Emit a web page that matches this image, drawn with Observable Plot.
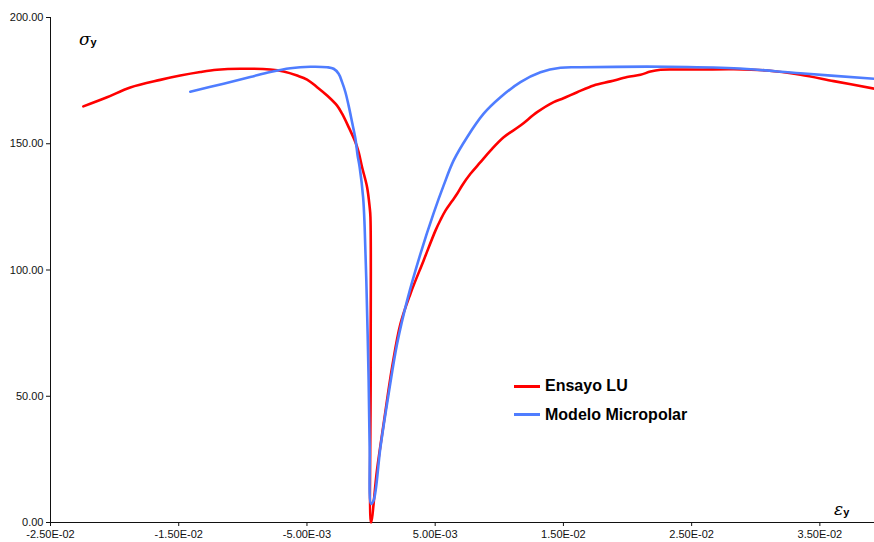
<!DOCTYPE html>
<html>
<head>
<meta charset="utf-8">
<script src="https://cdn.jsdelivr.net/npm/d3@7"></script>
<script src="https://cdn.jsdelivr.net/npm/@observablehq/plot@0.6"></script>
<style>
  html, body { margin: 0; padding: 0; background: #fff; }
  #wrap { position: relative; width: 874px; height: 542px; font-family: "Liberation Sans", Arial, sans-serif; }
  .lab { position: absolute; color: #000; white-space: nowrap; }
  .leg { position: absolute; font-weight: bold; font-size: 16px; color: #000; white-space: nowrap; line-height: 18px; }
  .sw { position: absolute; height: 3px; width: 26px; }
</style>
</head>
<body>
<div id="wrap"></div>
<script>
// Ensayo LU (experimental) : strain, stress
const ensayoX = [-0.02244, -0.02059, -0.01878, -0.01644, -0.01488, -0.01332, -0.01201, -0.01020, -0.00786, -0.00682,
  -0.00577, -0.00499, -0.00421, -0.00343, -0.00265, -0.00226, -0.00175, -0.00122, -0.00097, -0.00070,
  -0.00031, -0.00011, -0.00005, -0.00003, 0.00000, 0.00046, 0.00098, 0.00164, 0.00229, 0.00307,
  0.00410, 0.00502, 0.00541, 0.00580, 0.00632, 0.00671, 0.00710, 0.00775, 0.00853, 0.00931,
  0.01034, 0.01165, 0.01295, 0.01424, 0.01500, 0.01607, 0.01736, 0.01867, 0.01997, 0.02101,
  0.02179, 0.02257, 0.02387, 0.02569, 0.02828, 0.03089, 0.03349, 0.03608, 0.03926];
const ensayoY = [164.8, 168.4, 172.3, 175.3, 177.0, 178.4, 179.3, 179.7, 179.4, 178.6,
  177.0, 175.4, 172.4, 169.1, 165.1, 161.9, 156.6, 150.6, 146.7, 140.7,
  132.8, 124.9, 121.0, 60.0, 0.0, 20.6, 39.1, 61.5, 78.7, 90.6,
  103.8, 115.6, 119.8, 123.5, 127.3, 130.2, 133.5, 138.1, 142.7, 147.3,
  152.6, 157.2, 162.5, 166.5, 168.0, 170.4, 173.1, 174.7, 176.4, 177.3,
  178.6, 179.3, 179.4, 179.4, 179.5, 179.0, 177.3, 174.8, 171.8];

// Modelo Micropolar (model) : strain, stress
const modeloX = [-0.01410, -0.01150, -0.00942, -0.00786, -0.00630, -0.00474, -0.00343, -0.00292, -0.00253, -0.00226,
  -0.00200, -0.00175, -0.00148, -0.00122, -0.00105, -0.00089, -0.00062, -0.00050, -0.00037, -0.00019,
  -0.00011, 0.00000, 0.00020, 0.00073, 0.00137, 0.00203, 0.00281, 0.00385, 0.00488,
  0.00566, 0.00644, 0.00749, 0.00878, 0.01009, 0.01165, 0.01321, 0.01477, 0.01633, 0.02309,
  0.02828, 0.03349, 0.03926];
const modeloY = [170.6, 173.8, 176.4, 178.4, 179.9, 180.5, 180.3, 179.7, 177.7, 174.4,
  170.4, 165.1, 158.5, 152.0, 145.3, 140.7, 128.8, 117.0, 95.8, 56.2,
  29.8, 7.4, 8.7, 29.8, 51.0, 70.8, 87.9, 106.4, 122.5,
  133.5, 143.4, 152.6, 161.9, 168.4, 174.4, 178.3, 180.1, 180.3, 180.5,
  179.9, 177.9, 175.7];

const xTicks = [-0.025, -0.015, -0.005, 0.005, 0.015, 0.025, 0.035];
const yTicks = [0, 50, 100, 150, 200];
const seriesNames = ["Ensayo LU", "Modelo Micropolar"];
const seriesColors = ["#ff0000", "#4f7dff"];

const ensayo = ensayoX.map((x, i) => ({x, y: ensayoY[i]}));
const modelo = modeloX.map((x, i) => ({x, y: modeloY[i]}));

function fmtE(v) {
  const [m, e] = v.toExponential(2).split("e");
  const n = +e;
  return m + "E" + (n < 0 ? "-" : "+") + String(Math.abs(n)).padStart(2, "0");
}

const chart = Plot.plot({
  width: 874,
  height: 542,
  marginLeft: 50,
  marginRight: 0,
  marginTop: 17,
  marginBottom: 20,
  style: { fontFamily: "'Liberation Sans', Arial, sans-serif", fontSize: "11px", color: "#111", background: "#fff" },
  x: { domain: [-0.025, 0.03926] },
  y: { domain: [0, 200] },
  marks: [
    Plot.axisY({ ticks: yTicks, tickFormat: d => d.toFixed(2), tickSize: 4, tickPadding: 3, label: null, fontSize: 11 }),
    Plot.axisX({ ticks: xTicks, tickFormat: fmtE, tickSize: 4, tickPadding: 4, label: null, fontSize: 11 }),
    Plot.ruleX([-0.025], { stroke: "#111" }),
    Plot.ruleY([0], { stroke: "#111" }),
    Plot.line(ensayo, { x: "x", y: "y", stroke: seriesColors[0], strokeWidth: 2.6, curve: "catmull-rom" }),
    Plot.line(modelo, { x: "x", y: "y", stroke: seriesColors[1], strokeWidth: 2.6, curve: "catmull-rom" })
  ]
});

const wrap = document.getElementById("wrap");
wrap.appendChild(chart);

// axis symbols
const sig = document.createElement("div");
sig.className = "lab";
sig.style.left = "79px"; sig.style.top = "29px";
sig.innerHTML = '<span style="font-family:\'DejaVu Serif\',serif;font-style:italic;font-size:17px">σ</span><span style="font-weight:bold;font-size:11px;position:relative;top:1px">y</span>';
wrap.appendChild(sig);

const eps = document.createElement("div");
eps.className = "lab";
eps.style.left = "834px"; eps.style.top = "499px";
eps.innerHTML = '<span style="font-family:\'DejaVu Serif\',serif;font-style:italic;font-size:17px">ε</span><span style="font-weight:bold;font-size:11px;position:relative;top:1px">y</span>';
wrap.appendChild(eps);

// legend
seriesNames.forEach((name, i) => {
  const y = 386 + i * 28.5;
  const sw = document.createElement("div");
  sw.className = "sw";
  sw.style.left = "514px"; sw.style.top = (y - 1.5) + "px";
  sw.style.background = seriesColors[i];
  wrap.appendChild(sw);
  const t = document.createElement("div");
  t.className = "leg";
  t.style.left = "545px"; t.style.top = (y - 9) + "px";
  t.textContent = name;
  wrap.appendChild(t);
});
</script>
</body>
</html>
